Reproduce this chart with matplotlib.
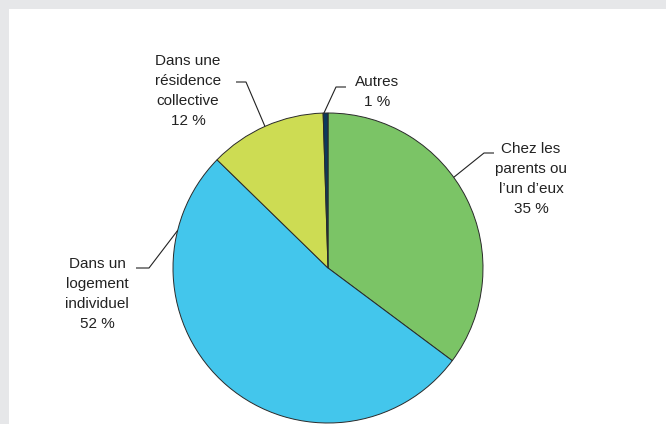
import numpy as np
import matplotlib
matplotlib.use("Agg")
import matplotlib.pyplot as plt
from matplotlib.patches import Rectangle

labels = ["Chez les\nparents ou\nl\u2019un d\u2019eux", "Dans un\nlogement\nindividuel",
          "Dans une\nr\u00e9sidence\ncollective", "Autres"]
shares = [35.2, 52.1, 12.2, 0.5]      # slice sizes
shown = ["35 %", "52 %", "12 %", "1 %"]  # printed labels
colors = ["#7bc466", "#43c6ec", "#cddc53", "#0c3a5c"]

W, H = 666, 424
CX, CY, R = 328, 268, 155

# label layout in image pixels: (attach angle deg, elbow, line end, text center)
LAYOUT = [
    (35.8, (484, 153), (494, 153), (531, 179)),
    (166.0, (149, 268), (136, 268), (97, 294)),
    (114.0, (246, 82), (236, 82), (188, 91)),
    (91.5, (336, 87), (346, 87), (377, 92)),
]

plt.rcParams["font.family"] = ["Liberation Sans", "DejaVu Sans"]

fig = plt.figure(figsize=(W / 100, H / 100), dpi=100)
fig.patch.set_facecolor("#e6e7e9")
fig.add_artist(Rectangle((9 / W, 0), 1 - 9 / W, (H - 9) / H, transform=fig.transFigure,
                         facecolor="white", edgecolor="none", zorder=0))

ax = fig.add_axes([0, 0, 1, 1])
ax.patch.set_alpha(0)


def fy(y):
    return H - y


ax.pie(shares, colors=colors, startangle=90, counterclock=False,
       center=(CX, fy(CY)), radius=R,
       wedgeprops=dict(edgecolor="#2a2a2a", linewidth=0.7))
ax.set_xlim(0, W)
ax.set_ylim(0, H)
ax.set_aspect("equal")
ax.axis("off")

for lab, txt, (ang, elbow, end, tc) in zip(labels, shown, LAYOUT):
    a = np.radians(ang)
    x0 = CX + R * np.cos(a)
    y0 = fy(CY) + R * np.sin(a)
    ax.plot([x0, elbow[0], end[0]], [y0, fy(elbow[1]), fy(end[1])],
            color="#222222", lw=0.8, solid_capstyle="butt")
    ax.text(tc[0], fy(tc[1]), f"{lab}\n{txt}", ha="center", va="center",
            multialignment="center", fontsize=11, linespacing=1.52, color="#222222")

fig.savefig("out.png", dpi=100)
